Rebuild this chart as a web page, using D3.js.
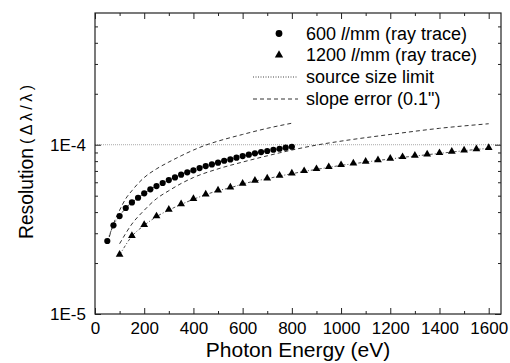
<!DOCTYPE html>
<html>
<head>
<meta charset="utf-8">
<script src="https://cdn.jsdelivr.net/npm/d3@7"></script>
<style>
  html, body { margin: 0; padding: 0; background: #fff; }
  svg { display: block; }
  text { font-family: "Liberation Sans", Arial, Helvetica, sans-serif; fill: #000; }
</style>
</head>
<body>
<svg id="chart" width="510" height="363"></svg>
<script>
// ---- data ----
const energy600 = [50,75,100,125,150,175,200,225,250,275,300,325,350,375,400,425,450,475,500,525,550,575,600,625,650,675,700,725,750,775,800];
const res600 = [2.70e-5,3.34e-5,3.79e-5,4.23e-5,4.56e-5,4.86e-5,5.16e-5,5.45e-5,5.70e-5,5.94e-5,6.18e-5,6.41e-5,6.65e-5,6.87e-5,7.06e-5,7.28e-5,7.48e-5,7.65e-5,7.83e-5,8.04e-5,8.19e-5,8.38e-5,8.57e-5,8.73e-5,8.89e-5,9.05e-5,9.18e-5,9.34e-5,9.47e-5,9.60e-5,9.73e-5];

const energy1200 = [100,150,200,250,300,350,400,450,500,550,600,650,700,750,800,850,900,950,1000,1050,1100,1150,1200,1250,1300,1350,1400,1450,1500,1550,1600];
const res1200 = [2.23e-5,2.88e-5,3.34e-5,3.76e-5,4.11e-5,4.44e-5,4.76e-5,5.07e-5,5.35e-5,5.57e-5,5.86e-5,6.10e-5,6.30e-5,6.53e-5,6.74e-5,6.96e-5,7.15e-5,7.35e-5,7.55e-5,7.72e-5,7.90e-5,8.08e-5,8.23e-5,8.42e-5,8.57e-5,8.73e-5,8.89e-5,9.05e-5,9.22e-5,9.38e-5,9.52e-5];

const slopeEnergy600 = [50,75,100,125,150,175,200,250,300,350,400,450,500,600,700,800];
const slopeRes600 = [2.6e-5,3.4e-5,4.1e-5,4.8e-5,5.35e-5,5.9e-5,6.4e-5,7.2e-5,7.9e-5,8.6e-5,9.3e-5,9.95e-5,10.5e-5,11.5e-5,12.5e-5,13.4e-5];

const slopeEnergy1200 = [100,150,200,250,300,350,400,500,600,700,800,900,1000,1200,1400,1600];
const slopeRes1200 = [2.6e-5,3.4e-5,4.1e-5,4.8e-5,5.35e-5,5.9e-5,6.4e-5,7.2e-5,7.9e-5,8.6e-5,9.3e-5,9.95e-5,10.5e-5,11.5e-5,12.5e-5,13.3e-5];

const sourceLimitEnergy = [0, 1650];
const sourceLimitRes = [1e-4, 1e-4];

const xTickValues = [0,200,400,600,800,1000,1200,1400,1600];
const xMinorTickValues = [100,300,500,700,900,1100,1300,1500];
const yTickValues = [1e-5, 1e-4];
const yTickLabels = ["1E-5", "1E-4"];
const yMinorTickValues = [2e-5,3e-5,4e-5,5e-5,6e-5,7e-5,8e-5,9e-5,2e-4,3e-4,4e-4,5e-4];

const legendLabels = ["600 l/mm (ray trace)", "1200 l/mm (ray trace)", "source size limit", "slope error (0.1\")"];

// ---- layout ----
const svg = d3.select("#chart");
const L = 95, R = 501, T = 13, B = 314;

const x = d3.scaleLinear().domain([0, 1650]).range([L, R]);
const y = d3.scaleLog().domain([1e-5, 6e-4]).range([B, T]);

const clipId = "plotclip";
svg.append("defs").append("clipPath").attr("id", clipId)
  .append("rect").attr("x", L).attr("y", T).attr("width", R - L).attr("height", B - T);

const plot = svg.append("g").attr("clip-path", `url(#${clipId})`);

const line = d3.line().x(d => x(d[0])).y(d => y(d[1]));
const smooth = d3.line().x(d => x(d[0])).y(d => y(d[1])).curve(d3.curveMonotoneX);

// source size limit
plot.append("path")
  .datum(d3.zip(sourceLimitEnergy, sourceLimitRes))
  .attr("d", line)
  .attr("fill", "none").attr("stroke", "#aaa").attr("stroke-width", 1)
  .attr("stroke-dasharray", "1,1");

// slope error curves
[[slopeEnergy600, slopeRes600], [slopeEnergy1200, slopeRes1200]].forEach(([e, r]) => {
  plot.append("path")
    .datum(d3.zip(e, r))
    .attr("d", smooth)
    .attr("fill", "none").attr("stroke", "#333").attr("stroke-width", 1)
    .attr("stroke-dasharray", "4,3");
});

// connecting dash-dot lines
[[energy600, res600], [energy1200, res1200]].forEach(([e, r]) => {
  plot.append("path")
    .datum(d3.zip(e, r))
    .attr("d", smooth)
    .attr("fill", "none").attr("stroke", "#222").attr("stroke-width", 0.8)
    .attr("stroke-dasharray", "3,2,1,2");
});

// circles
plot.selectAll("circle.c600")
  .data(d3.zip(energy600, res600))
  .join("circle")
  .attr("class", "c600")
  .attr("cx", d => x(d[0])).attr("cy", d => y(d[1]))
  .attr("r", 3.1).attr("fill", "#000");

// triangles
const tri = d3.symbol().type(d3.symbolTriangle).size(26);
plot.selectAll("path.t1200")
  .data(d3.zip(energy1200, res1200))
  .join("path")
  .attr("class", "t1200")
  .attr("d", tri)
  .attr("transform", d => `translate(${x(d[0])},${y(d[1]) - 0.5})`)
  .attr("fill", "#000");

// ---- axes ----
const axisColor = "#222";
function styleAxis(g) {
  g.select(".domain").remove();
  g.selectAll(".tick line").attr("stroke", axisColor).attr("stroke-width", 1);
  g.selectAll(".tick text").style("font-size", "17px").attr("fill", "#000");
}

// bottom
svg.append("g").attr("transform", `translate(0,${B})`)
  .call(d3.axisBottom(x).tickValues(xTickValues).tickSize(-6).tickPadding(8).tickFormat(d3.format("d")))
  .call(styleAxis);
svg.append("g").attr("transform", `translate(0,${B})`)
  .call(d3.axisBottom(x).tickValues(xMinorTickValues).tickSize(-3).tickFormat(""))
  .call(styleAxis);
// top
svg.append("g").attr("transform", `translate(0,${T})`)
  .call(d3.axisTop(x).tickValues(xTickValues).tickSize(-6).tickFormat(""))
  .call(styleAxis);
svg.append("g").attr("transform", `translate(0,${T})`)
  .call(d3.axisTop(x).tickValues(xMinorTickValues).tickSize(-3).tickFormat(""))
  .call(styleAxis);
// left
svg.append("g").attr("transform", `translate(${L},0)`)
  .call(d3.axisLeft(y).tickValues(yTickValues).tickSize(-6).tickPadding(9)
    .tickFormat((d, i) => yTickLabels[i]))
  .call(styleAxis);
svg.append("g").attr("transform", `translate(${L},0)`)
  .call(d3.axisLeft(y).tickValues(yMinorTickValues).tickSize(-3).tickFormat(""))
  .call(styleAxis);
// right
svg.append("g").attr("transform", `translate(${R},0)`)
  .call(d3.axisRight(y).tickValues(yTickValues).tickSize(-6).tickFormat(""))
  .call(styleAxis);
svg.append("g").attr("transform", `translate(${R},0)`)
  .call(d3.axisRight(y).tickValues(yMinorTickValues).tickSize(-3).tickFormat(""))
  .call(styleAxis);

// frame
svg.append("rect").attr("x", L).attr("y", T).attr("width", R - L).attr("height", B - T)
  .attr("fill", "none").attr("stroke", axisColor).attr("stroke-width", 1.2);

// axis titles
svg.append("text")
  .attr("x", (L + R) / 2).attr("y", 357)
  .attr("text-anchor", "middle")
  .style("font-size", "21px")
  .text("Photon Energy (eV)");

const yTitle = svg.append("g").attr("transform", `translate(33,0) rotate(-90)`);
yTitle.append("text")
  .attr("x", -239).attr("y", 0)
  .attr("text-anchor", "start")
  .style("font-size", "21px")
  .attr("textLength", 91).attr("lengthAdjust", "spacingAndGlyphs")
  .text("Resolution");
yTitle.append("text")
  .attr("x", -144).attr("y", -1)
  .attr("text-anchor", "start")
  .style("font-size", "16px")
  .attr("textLength", 59).attr("lengthAdjust", "spacing")
  .text("(Δλ/λ)");

// ---- legend ----
const lg = svg.append("g");
const rowY = [33.5, 55, 77, 99];
const textX = 306;
lg.append("circle").attr("cx", 279).attr("cy", rowY[0]).attr("r", 3.4).attr("fill", "#000");
lg.append("path").attr("d", d3.symbol().type(d3.symbolTriangle).size(30)())
  .attr("transform", `translate(279,${rowY[1]})`).attr("fill", "#000");
lg.append("line").attr("x1", 253).attr("x2", 298).attr("y1", rowY[2]).attr("y2", rowY[2])
  .attr("stroke", "#444").attr("stroke-width", 1).attr("stroke-dasharray", "1,1.5");
lg.append("line").attr("x1", 253).attr("x2", 298).attr("y1", rowY[3]).attr("y2", rowY[3])
  .attr("stroke", "#333").attr("stroke-width", 1).attr("stroke-dasharray", "4,3");

legendLabels.forEach((lab, i) => {
  const t = lg.append("text").attr("x", textX).attr("y", rowY[i] + 6).style("font-size", "18px");
  const m = lab.match(/^(\d+ )l(\/mm.*)$/);
  if (m) {
    t.append("tspan").text(m[1]);
    t.append("tspan").style("font-style", "italic").text("l");
    t.append("tspan").text(m[2]);
  } else {
    t.text(lab);
  }
});
</script>
</body>
</html>
